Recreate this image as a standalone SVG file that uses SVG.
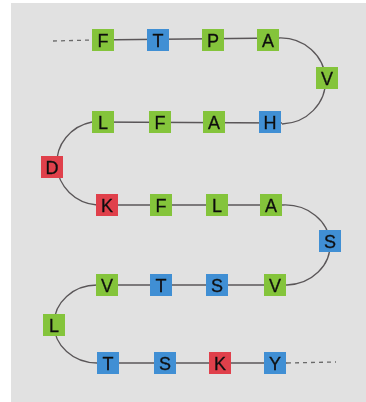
<svg xmlns="http://www.w3.org/2000/svg" width="366" height="402" viewBox="0 0 366 402">
  <style>
    .bk { stroke: none; }
    .g { fill: #84c43a; }
    .b { fill: #3f8fd4; }
    .r { fill: #e0404c; }
    .lbl { font-family: "Liberation Sans", Arial, sans-serif; font-size: 18px; fill: #101010; text-anchor: middle; stroke: #101010; stroke-width: 0.3; }
    .ln { fill: none; stroke: #5a5658; stroke-width: 1.3; }
    .dash { fill: none; stroke: #6a6a6a; stroke-width: 1.3; stroke-dasharray: 4 4; }
  </style>
  <defs>
    <filter id="soft" x="-10%" y="-10%" width="120%" height="120%">
      <feGaussianBlur stdDeviation="0.4"/>
    </filter>
  </defs>

  <rect x="0" y="0" width="366" height="402" fill="#ffffff"/>
  <rect x="11" y="3" width="355" height="399" fill="#e1e1e1"/>

  <!-- backbone chain -->
  <g id="connectors">
    <path class="dash" d="M53,41 L92,40"/>
    <path class="ln" d="M92,40 L279,38"/>
    <path class="ln" d="M279,38 A45,43 0 0 1 282,124"/>
    <path class="ln" d="M282,123 L92,122"/>
    <path class="ln" d="M92,122 A44,42 0 0 0 97,205"/>
    <path class="ln" d="M97,205 L283,205"/>
    <path class="ln" d="M283,205 A45,40 0 0 1 287,285"/>
    <path class="ln" d="M287,285 L97,285"/>
    <path class="ln" d="M97,285 A43,39 0 0 0 97,363"/>
    <path class="ln" d="M97,363 L287,363"/>
    <path class="dash" d="M287,363 L336,362"/>
  </g>

  <g filter="url(#soft)">
    <!-- row 1 -->
    <g id="n1"><rect class="bk g" x="92" y="29" width="22" height="22"/><text class="lbl" x="103" y="46.5">F</text></g>
    <g id="n2"><rect class="bk b" x="147" y="29" width="22" height="22"/><text class="lbl" x="158" y="46.5">T</text></g>
    <g id="n3"><rect class="bk g" x="202" y="29" width="22" height="22"/><text class="lbl" x="213" y="46.5">P</text></g>
    <g id="n4"><rect class="bk g" x="257" y="29" width="22" height="22"/><text class="lbl" x="268" y="46.5">A</text></g>
    <g id="n5"><rect class="bk g" x="316" y="67" width="22" height="22"/><text class="lbl" x="327" y="84.5">V</text></g>
    <!-- row 2 -->
    <g id="n6"><rect class="bk b" x="259" y="111" width="22" height="22"/><text class="lbl" x="270" y="128.5">H</text></g>
    <g id="n7"><rect class="bk g" x="203" y="111" width="22" height="22"/><text class="lbl" x="214" y="128.5">A</text></g>
    <g id="n8"><rect class="bk g" x="149" y="111" width="22" height="22"/><text class="lbl" x="160" y="128.5">F</text></g>
    <g id="n9"><rect class="bk g" x="92" y="111" width="22" height="22"/><text class="lbl" x="103" y="128.5">L</text></g>
    <g id="n10"><rect class="bk r" x="41" y="156" width="22" height="22"/><text class="lbl" x="52" y="173.5">D</text></g>
    <!-- row 3 -->
    <g id="n11"><rect class="bk r" x="96" y="194" width="22" height="22"/><text class="lbl" x="107" y="211.5">K</text></g>
    <g id="n12"><rect class="bk g" x="150" y="194" width="22" height="22"/><text class="lbl" x="161" y="211.5">F</text></g>
    <g id="n13"><rect class="bk g" x="206" y="194" width="22" height="22"/><text class="lbl" x="217" y="211.5">L</text></g>
    <g id="n14"><rect class="bk g" x="260" y="194" width="22" height="22"/><text class="lbl" x="271" y="211.5">A</text></g>
    <g id="n15"><rect class="bk b" x="319" y="230" width="22" height="22"/><text class="lbl" x="330" y="247.5">S</text></g>
    <!-- row 4 -->
    <g id="n16"><rect class="bk g" x="264" y="274" width="22" height="22"/><text class="lbl" x="275" y="291.5">V</text></g>
    <g id="n17"><rect class="bk b" x="206" y="274" width="22" height="22"/><text class="lbl" x="217" y="291.5">S</text></g>
    <g id="n18"><rect class="bk b" x="150" y="274" width="22" height="22"/><text class="lbl" x="161" y="291.5">T</text></g>
    <g id="n19"><rect class="bk g" x="96" y="274" width="22" height="22"/><text class="lbl" x="107" y="291.5">V</text></g>
    <g id="n20"><rect class="bk g" x="43" y="314" width="22" height="22"/><text class="lbl" x="54" y="331.5">L</text></g>
    <!-- row 5 -->
    <g id="n21"><rect class="bk b" x="97" y="352" width="22" height="22"/><text class="lbl" x="108" y="369.5">T</text></g>
    <g id="n22"><rect class="bk b" x="154" y="352" width="22" height="22"/><text class="lbl" x="165" y="369.5">S</text></g>
    <g id="n23"><rect class="bk r" x="209" y="352" width="22" height="22"/><text class="lbl" x="220" y="369.5">K</text></g>
    <g id="n24"><rect class="bk b" x="264" y="352" width="22" height="22"/><text class="lbl" x="275" y="369.5">Y</text></g>
  </g>
</svg>
